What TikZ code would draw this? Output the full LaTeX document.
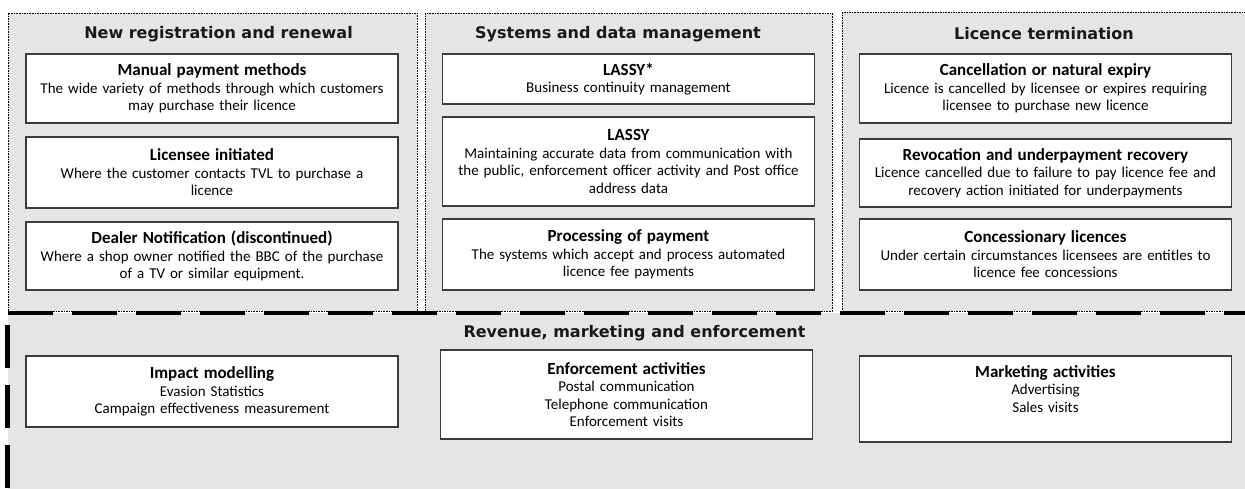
\documentclass[tikz,border=0pt]{standalone}
\usepackage{fontspec}
\setmainfont{Carlito}
\newfontfamily\titlefont{DejaVu Sans}
\definecolor{panelgray}{HTML}{E5E5E5}
\definecolor{boxline}{HTML}{3C3C3C}
\newcommand{\hd}[1]{{\fontsize{17}{18}\bfseries\selectfont #1}}
\tikzset{
  panel/.style={fill=panelgray,draw=black,line width=0.8pt,dash pattern=on 1.6pt off 1pt},
  itembox/.style={draw=boxline,fill=white,line width=1.3pt,align=center,
    text width=364pt,inner xsep=4pt,inner ysep=0pt,
    font=\fontsize{15}{17.5}\selectfont},
  paneltitle/.style={font=\titlefont\fontsize{16}{20}\bfseries\selectfont,text=black!90,inner sep=0pt},
  thickdash/.style={line width=4.5pt,dash pattern=on 45pt off 19pt}
}
\begin{document}
\begin{tikzpicture}[x=1pt,y=-1pt]
\useasboundingbox(0,0)rectangle(1245,488);
\fill[white](0,0)rectangle(1245,488);
% bottom band
\fill[panelgray](8,313)rectangle(1250,492);
% the three upper panels
\draw[panel](8,13)rectangle(417,311);
\draw[panel](425,13)rectangle(832,311);
\draw[panel](842,12)rectangle(1252,311);
\draw[thickdash](8,313)--(1250,313);
\draw[thickdash,dash pattern=on 43pt off 17pt](7.5,488)--(7.5,318);
% titles
\node[paneltitle](tnew)at(218.5,34){New registration and renewal};
\node[paneltitle](tsys)at(618,34){Systems and data management};
\node[paneltitle](tend)at(1044,34){Licence termination};
\node[paneltitle](trev)at(634.5,333){Revenue, marketing and enforcement};
% new registration and renewal
\node[itembox,minimum height=69pt](manual)at(212,88.5){\hd{Manual payment methods}\\The wide variety of methods through which customers\\may purchase their licence};
\node[itembox,minimum height=71pt](initiated)at(212,172.5){\hd{Licensee initiated}\\Where the customer contacts TVL to purchase a\\licence};
\node[itembox,minimum height=68pt](dealer)at(212,256){\hd{Dealer Notification (discontinued)}\\Where a shop owner notified the BBC of the purchase\\of a TV or similar equipment.};
% systems and data management
\node[itembox,minimum height=50pt](lassystar)at(628.5,79){\hd{LASSY*}\\Business continuity management};
\node[itembox,minimum height=89pt](lassy)at(628.5,161.5){\hd{LASSY}\\Maintaining accurate data from communication with\\the public, enforcement officer activity and Post office\\address data};
\node[itembox,minimum height=71pt](processing)at(628.5,254.5){\hd{Processing of payment}\\The systems which accept and process automated\\licence fee payments};
% licence termination
\node[itembox,minimum height=69pt](expiry)at(1045.5,88.5){\hd{Cancellation or natural expiry}\\Licence is cancelled by licensee or expires requiring\\licensee to purchase new licence};
\node[itembox,minimum height=68pt](revocation)at(1045.5,173){\hd{Revocation and underpayment recovery}\\Licence cancelled due to failure to pay licence fee and\\recovery action initiated for underpayments};
\node[itembox,minimum height=71pt](concession)at(1045.5,254.5){\hd{Concessionary licences}\\Under certain circumstances licensees are entitles to\\licence fee concessions};
% revenue, marketing and enforcement
\node[itembox,minimum height=71pt](impact)at(212,391.5){\hd{Impact modelling}\\Evasion Statistics\\Campaign effectiveness measurement};
\node[itembox,minimum height=89pt](enforce)at(626.5,394.5){\hd{Enforcement activities}\\Postal communication\\Telephone communication\\Enforcement visits};
\node[itembox,minimum height=86pt](marketing)at(1045.5,399){\hd{Marketing activities}\\Advertising\\Sales visits\\[3pt]\mbox{}};
\end{tikzpicture}
\end{document}
